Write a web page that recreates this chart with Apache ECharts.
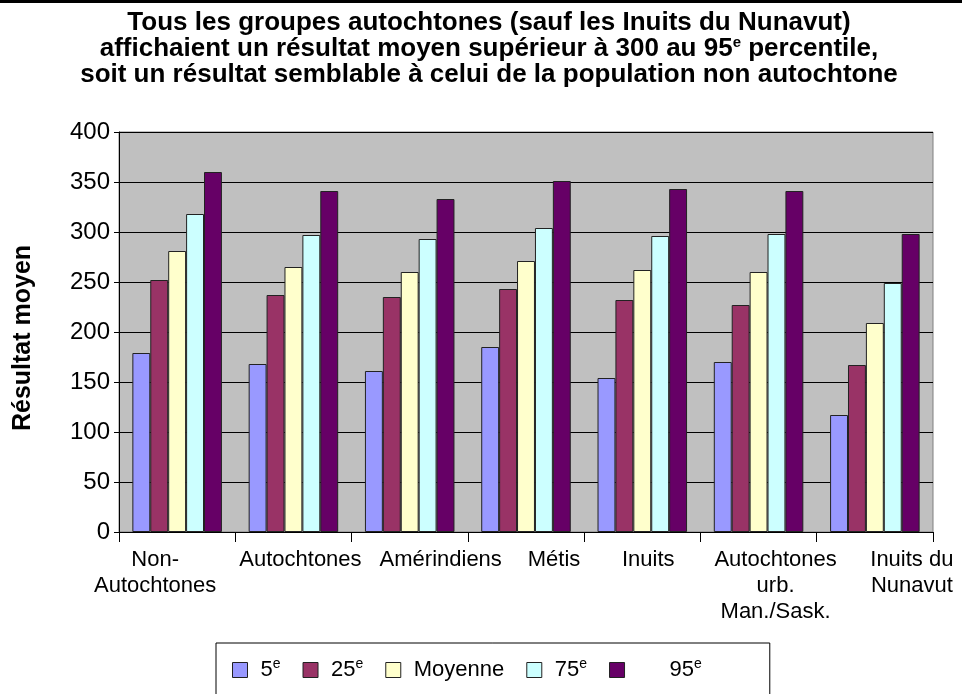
<!doctype html>
<html>
<head>
  <meta charset="utf-8">
  <title>Résultat moyen par percentile</title>
  <script src="https://cdn.jsdelivr.net/npm/echarts@6/dist/echarts.min.js"></script>
  <style>
    html, body { margin: 0; padding: 0; background: #fff; }
    #main { width: 962px; height: 694px; }
  </style>
</head>
<body>
<div id="main"></div>
<script>
// categories and values
var categories = ['Non-\nAutochtones', 'Autochtones', 'Amérindiens', 'Métis', 'Inuits',
  'Autochtones\nurb.\nMan./Sask.', 'Inuits du\nNunavut'];
var seriesNames = ['5e', '25e', 'Moyenne', '75e', '95e'];
var p5 = [179, 168, 161, 185, 154, 170, 117];
var p25 = [252, 237, 235, 243, 232, 227, 167];
var moyenne = [281, 265, 260, 271, 262, 260, 209];
var p75 = [318, 297, 293, 304, 296, 298, 249];
var p95 = [360, 341, 333, 351, 343, 341, 298];
var yTicks = [0, 50, 100, 150, 200, 250, 300, 350, 400];

// look: colours, legend text, label shifts (Excel puts the labels off-centre)
var colors = ['#9999FF', '#993366', '#FFFFCC', '#CCFFFF', '#660066'];
var legendLabels = ['{a|5}{sup|e}', '{a|25}{sup|e}', '{a|Moyenne}', '{a|75}{sup|e}', '{w|95}{sup|e}'];
var labelShift = [-22, 7, 31, 28, 6, 17, 37];

var values = [p5, p25, moyenne, p75, p95];
var font = 'Liberation Sans, Arial, sans-serif';

var series = seriesNames.map(function (n, i) {
  return {
    name: n,
    type: 'bar',
    data: values[i],
    barGap: '0%',
    barCategoryGap: '23%',
    itemStyle: { color: colors[i], borderColor: '#222', borderWidth: 1 }
  };
});

var catRich = {};
labelShift.forEach(function (d, i) {
  catRich['c' + i] = {
    fontFamily: font, fontSize: 22, color: '#000', lineHeight: 26,
    padding: d > 0 ? [0, 0, 0, 2 * d] : [0, -2 * d, 0, 0]
  };
});

var myChart = echarts.init(document.getElementById('main'));
var option = {
  animation: false,
  backgroundColor: '#fff',
  color: colors,
  title: {
    text: 'Tous les groupes autochtones (sauf les Inuits du Nunavut)\n' +
      'affichaient un résultat moyen supérieur à 300 au 95{sup|e} percentile,\n' +
      'soit un résultat semblable à celui de la population non autochtone',
    left: 484,
    top: 5,
    textAlign: 'center',
    textStyle: {
      fontFamily: font, fontSize: 26, fontWeight: 'bold', color: '#000', lineHeight: 26,
      rich: {
        sup: { fontFamily: font, fontSize: 15, fontWeight: 'bold', color: '#000', lineHeight: 26, padding: [0, 0, 12, 0] }
      }
    }
  },
  graphic: [{
    type: 'rect', left: 0, top: 0,
    shape: { width: 962, height: 3 },
    style: { fill: '#000' }
  }],
  legend: {
    data: seriesNames,
    left: 216,
    top: 643,
    padding: [14, 68, 20, 16],
    itemGap: 22,
    itemWidth: 15,
    itemHeight: 15,
    borderColor: '#000',
    borderWidth: 1,
    icon: 'rect',
    itemStyle: { borderColor: '#222', borderWidth: 1 },
    formatter: function (name) {
      return legendLabels[seriesNames.indexOf(name)];
    },
    textStyle: {
      fontFamily: font, fontSize: 22, color: '#000',
      rich: {
        a: { fontFamily: font, fontSize: 22, color: '#000', padding: [0, 0, 0, 8] },
        w: { fontFamily: font, fontSize: 22, color: '#000', padding: [0, 0, 0, 40] },
        sup: { fontFamily: font, fontSize: 14, color: '#000', padding: [0, 0, 12, 0] }
      }
    }
  },
  grid: {
    left: 119, top: 132, width: 814, height: 400,
    show: true, backgroundColor: '#C0C0C0', borderColor: '#808080', borderWidth: 1
  },
  xAxis: {
    type: 'category',
    data: categories,
    axisLine: { lineStyle: { color: '#000', width: 1 } },
    axisTick: { show: true, length: 10, lineStyle: { color: '#000' } },
    axisLabel: {
      fontFamily: font, fontSize: 22, color: '#000', lineHeight: 26, margin: 15, interval: 0,
      formatter: function (v, i) {
        return v.split('\n').map(function (s) { return '{c' + i + '|' + s + '}'; }).join('\n');
      },
      rich: catRich
    }
  },
  yAxis: {
    type: 'value',
    min: yTicks[0],
    max: yTicks[yTicks.length - 1],
    interval: 50,
    name: 'Résultat moyen',
    nameLocation: 'middle',
    nameGap: 83,
    nameTextStyle: { fontFamily: font, fontSize: 25, fontWeight: 'bold', color: '#000', padding: [0, 12, 0, 0] },
    axisLine: { show: true, lineStyle: { color: '#000' } },
    axisTick: { show: true, length: 5, lineStyle: { color: '#000' } },
    axisLabel: { fontFamily: font, fontSize: 24, color: '#000', margin: 9 },
    splitLine: { show: true, lineStyle: { color: '#000', width: 1 } }
  },
  series: series
};
myChart.setOption(option);
</script>
</body>
</html>
